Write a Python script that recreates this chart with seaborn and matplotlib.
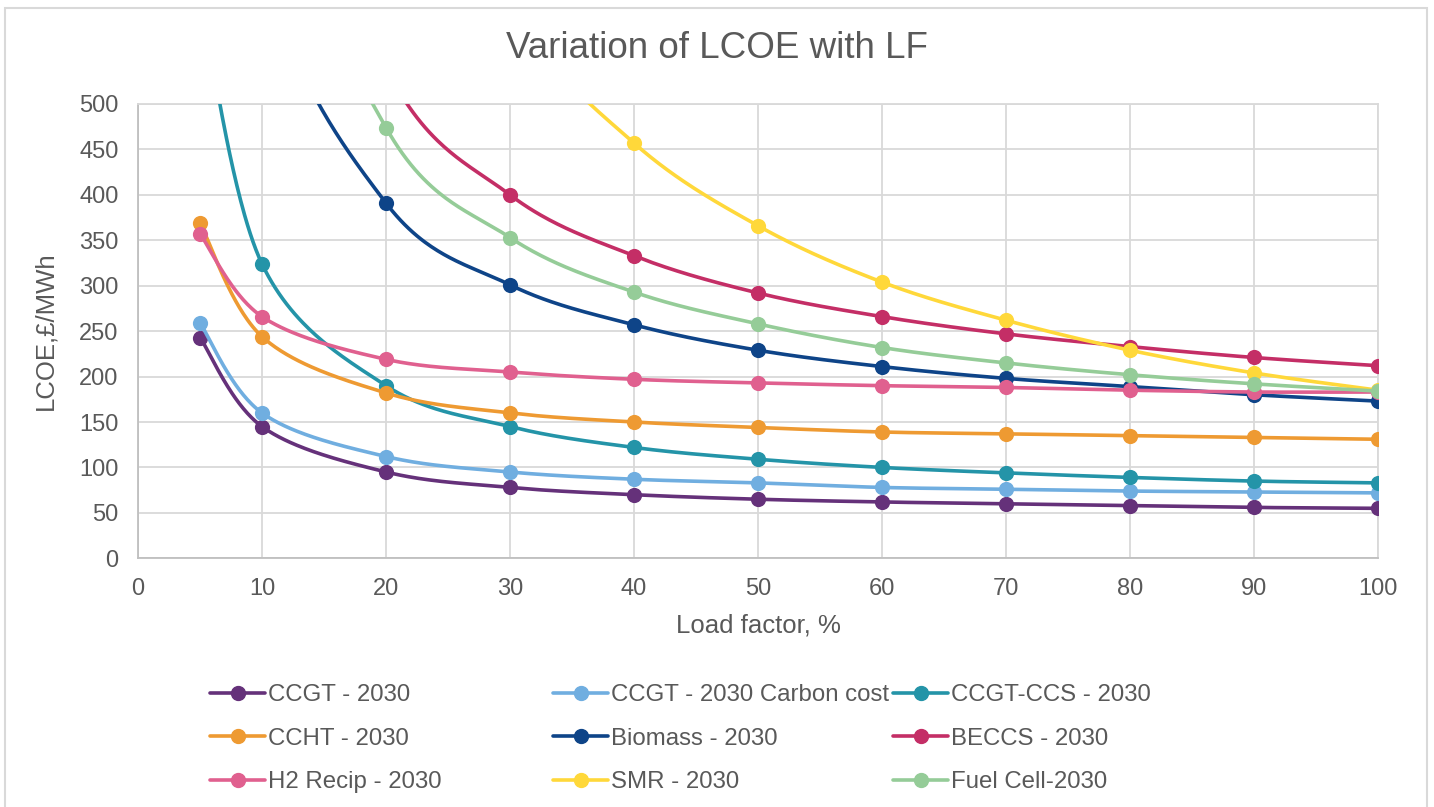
import numpy as np
import pandas as pd
import matplotlib
matplotlib.use("Agg")
import matplotlib.pyplot as plt
from matplotlib.lines import Line2D
from matplotlib.patches import Rectangle
import seaborn as sns

# Load factor (%) and levelised cost (GBP/MWh) per technology
load_factor = [5, 10, 20, 30, 40, 50, 60, 70, 80, 90, 100]
ccgt = [243, 145, 95, 78, 70, 65, 62, 60, 58, 56, 55]
ccgt_carbon = [259, 160, 112, 95, 87, 83, 78, 76, 74, 73, 72]
ccgt_ccs = [620, 324, 190, 145, 122, 109, 100, 94, 89, 85, 83]
ccht = [369, 244, 182, 160, 150, 144, 139, 137, 135, 133, 131]
biomass = [1200, 660, 391, 301, 257, 229, 211, 198, 189, 180, 173]
beccs = [1740, 940, 540, 400, 333, 292, 266, 247, 233, 221, 212]
h2_recip = [357, 266, 219, 205, 197, 193, 190, 188, 185, 183, 183]
smr = [3620, 1810, 910, 608, 457, 366, 304, 262, 229, 204, 185]
fuel_cell = [1560, 836, 474, 353, 293, 258, 232, 215, 202, 192, 184]

series_names = ["CCGT - 2030", "CCGT - 2030 Carbon cost", "CCGT-CCS - 2030",
                "CCHT - 2030", "Biomass - 2030", "BECCS - 2030",
                "H2 Recip - 2030", "SMR - 2030", "Fuel Cell-2030"]
series_values = [ccgt, ccgt_carbon, ccgt_ccs, ccht, biomass, beccs,
                 h2_recip, smr, fuel_cell]
series_colors = ["#65317A", "#70AEE0", "#2494A8", "#EE9A32", "#0E4488",
                 "#C42E66", "#E0608F", "#FFD83A", "#95CC98"]

x_ticks = [0, 10, 20, 30, 40, 50, 60, 70, 80, 90, 100]
y_ticks = [0, 50, 100, 150, 200, 250, 300, 350, 400, 450, 500]

TEXT = "#595959"
GRID = "#D9D9D9"

W, H, DPI = 1434, 807, 100
sns.set_theme(style="white")
plt.rcParams["font.family"] = ["Liberation Sans", "DejaVu Sans"]

fig = plt.figure(figsize=(W / DPI, H / DPI), dpi=DPI)
fig.patch.set_facecolor("white")

# chart frame
fig.patches.append(Rectangle((5 / W, -0.05), 1422 / W, 1.05 - 8 / H,
                             transform=fig.transFigure, fill=False,
                             edgecolor=GRID, linewidth=1.5))

left, right, top, bottom = 138, 1378, 104, 558.3
ax = fig.add_axes([left / W, 1 - bottom / H, (right - left) / W, (bottom - top) / H])

# pixel scale used for the smoothed (Bezier) curves
sx = (right - left) / 100.0
sy = (bottom - top) / 500.0


def smooth_curve(xs, ys, n=60):
    """Cubic Bezier smoothing through every point (spreadsheet-style)."""
    P = np.column_stack([np.asarray(xs, float) * sx, np.asarray(ys, float) * sy])
    out = []
    m = len(P)
    for i in range(m - 1):
        p_prev = P[i - 1] if i > 0 else P[i]
        p_next = P[i + 2] if i + 2 < m else P[i + 1]
        c1 = P[i] + (P[i + 1] - p_prev) / 6.0
        c2 = P[i + 1] - (p_next - P[i]) / 6.0
        t = np.linspace(0, 1, n, endpoint=(i == m - 2))[:, None]
        seg = ((1 - t) ** 3) * P[i] + 3 * ((1 - t) ** 2) * t * c1 \
            + 3 * (1 - t) * t ** 2 * c2 + t ** 3 * P[i + 1]
        out.append(seg)
    pts = np.vstack(out)
    return pts[:, 0] / sx, pts[:, 1] / sy


for k, (name, vals, col) in enumerate(zip(series_names, series_values, series_colors)):
    cx, cy = smooth_curve(load_factor, vals)
    curve = pd.DataFrame({"lf": cx, "lcoe": cy})
    sns.lineplot(data=curve, x="lf", y="lcoe", sort=False, estimator=None,
                 color=col, linewidth=2.6, ax=ax, zorder=3 + 2 * k, legend=False)
    pts = pd.DataFrame({"lf": load_factor, "lcoe": vals})
    sns.scatterplot(data=pts, x="lf", y="lcoe", color=col, s=120,
                    edgecolor=col, linewidth=0, ax=ax, zorder=4 + 2 * k,
                    legend=False)

ax.set_xlim(0, 100)
ax.set_ylim(0, 500)
ax.set_xticks(x_ticks)
ax.set_yticks(y_ticks)
ax.grid(True, color=GRID, linewidth=1.3)
ax.set_axisbelow(True)
for s in ["top", "right"]:
    ax.spines[s].set_color(GRID)
    ax.spines[s].set_linewidth(1.3)
for s in ["left", "bottom"]:
    ax.spines[s].set_color("#BFBFBF")
    ax.spines[s].set_linewidth(1.3)
ax.tick_params(axis="both", length=0, labelsize=17, labelcolor=TEXT)
ax.tick_params(axis="y", pad=14)
ax.tick_params(axis="x", pad=14)

ax.set_xlabel("Load factor, %", fontsize=18.5, color=TEXT, labelpad=10)
ax.set_ylabel("LCOE,£/MWh", fontsize=18.5, color=TEXT, labelpad=16)

fig.text(0.5, 1 - 48 / H, "Variation of LCOE with LF", ha="center", va="center",
         fontsize=26.5, color=TEXT)

# legend: three fixed-width columns, filled row by row
col_x = [210, 553, 893]
for c in range(3):
    handles, labels = [], []
    for r in range(3):
        idx = r * 3 + c
        handles.append(Line2D([], [], color=series_colors[idx], linewidth=2.6,
                              marker="o", markersize=10))
        labels.append(series_names[idx])
    leg = fig.legend(handles, labels, loc="upper left",
                     bbox_to_anchor=(col_x[c] / W, 1 - 684 / H),
                     frameon=False, fontsize=17.3, labelcolor=TEXT,
                     handlelength=2.3, handletextpad=0.12, labelspacing=0.9,
                     borderpad=0, borderaxespad=0)

fig.savefig("out.png", dpi=DPI, facecolor="white")
